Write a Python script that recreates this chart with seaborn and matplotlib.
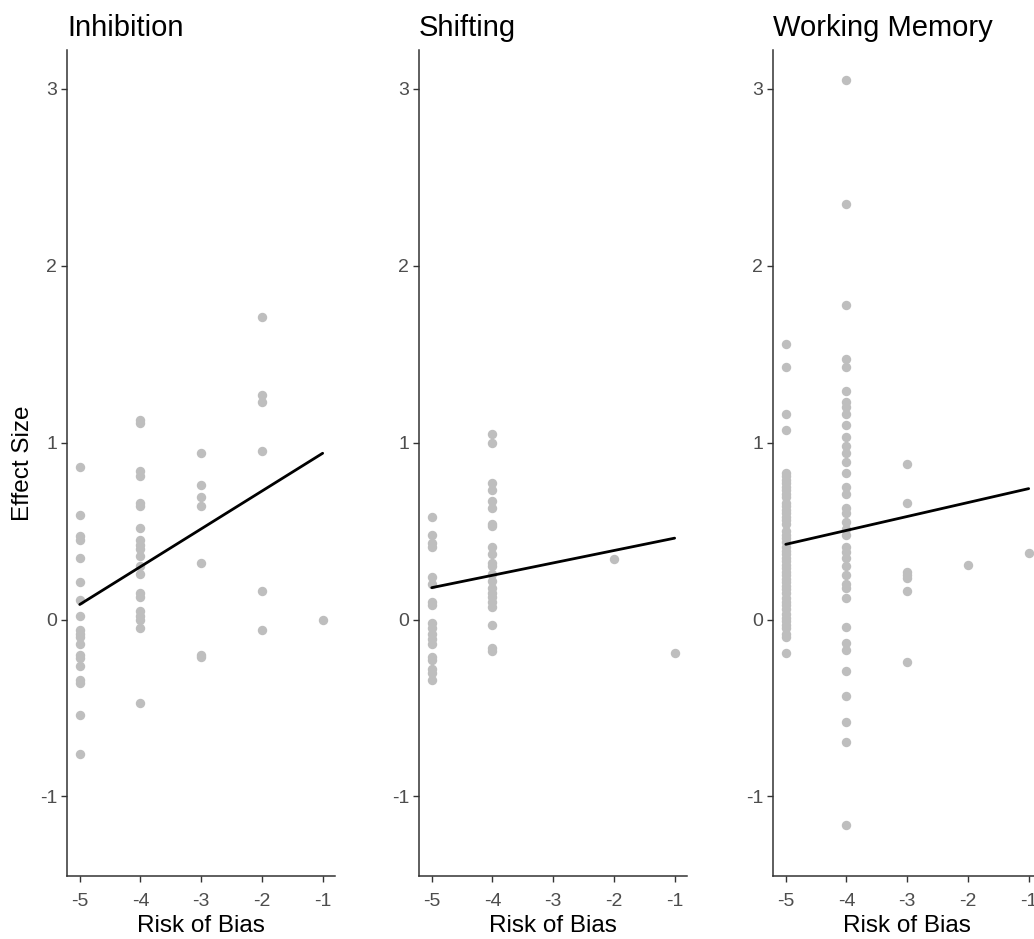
import numpy as np
import pandas as pd
import matplotlib
matplotlib.use("Agg")
import matplotlib.pyplot as plt
import seaborn as sns

# ---- effect sizes by risk-of-bias score, per executive-function domain ----
inhibition_rob = [-5] * 19 + [-4] * 20 + [-3] * 7 + [-2] * 6 + [-1]
inhibition_es = [
    0.86, 0.59, 0.47, 0.45, 0.35, 0.21, 0.11, 0.02, -0.06, -0.08,
    -0.10, -0.14, -0.20, -0.22, -0.26, -0.34, -0.36, -0.54, -0.76,
    1.13, 1.11, 0.84, 0.81, 0.66, 0.64, 0.52, 0.45, 0.42, 0.40,
    0.36, 0.30, 0.26, 0.15, 0.13, 0.05, 0.02, 0.00, -0.05, -0.47,
    0.94, 0.76, 0.69, 0.64, 0.32, -0.20, -0.21,
    1.71, 1.27, 1.23, 0.95, 0.16, -0.06,
    0.00,
]

shifting_rob = [-5] * 18 + [-4] * 22 + [-2] + [-1]
shifting_es = [
    0.58, 0.48, 0.43, 0.41, 0.24, 0.20, 0.10, 0.08, -0.02, -0.05,
    -0.08, -0.11, -0.14, -0.21, -0.23, -0.28, -0.30, -0.34,
    1.05, 1.00, 0.77, 0.73, 0.67, 0.63, 0.54, 0.53, 0.41, 0.37,
    0.32, 0.30, 0.26, 0.22, 0.18, 0.15, 0.13, 0.10, 0.07, -0.03,
    -0.16, -0.18,
    0.34,
    -0.19,
]

wm_rob = [-5] * 49 + [-4] * 38 + [-3] * 7 + [-2] + [-1]
wm_es = [
    1.56, 1.43, 1.16, 1.07, 0.83, 0.81, 0.79, 0.77, 0.75, 0.73,
    0.71, 0.69, 0.66, 0.64, 0.62, 0.60, 0.58, 0.56, 0.54, 0.50,
    0.48, 0.46, 0.44, 0.41, 0.39, 0.37, 0.35, 0.33, 0.31, 0.29,
    0.27, 0.25, 0.23, 0.21, 0.19, 0.17, 0.15, 0.12, 0.10, 0.08,
    0.06, 0.03, 0.01, -0.01, -0.03, -0.05, -0.08, -0.10, -0.19,
    3.05, 2.35, 1.78, 1.47, 1.43, 1.29, 1.23, 1.20, 1.16, 1.10,
    1.03, 0.98, 0.94, 0.89, 0.83, 0.75, 0.71, 0.63, 0.60, 0.55,
    0.51, 0.48, 0.41, 0.38, 0.35, 0.30, 0.25, 0.20, 0.18, 0.12,
    -0.04, -0.13, -0.17, -0.29, -0.43, -0.58, -0.69, -1.16,
    0.88, 0.66, 0.27, 0.25, 0.235, 0.16, -0.24,
    0.31,
    0.375,
]

domains = ["Inhibition", "Shifting", "Working Memory"]

# meta-regression fitted effect at the lowest and highest risk-of-bias score
fit_rob = [-5, -1]
fit_low = [0.085, 0.18, 0.425]
fit_high = [0.94, 0.46, 0.74]

x_ticks = [-5, -4, -3, -2, -1]
y_ticks = [-1, 0, 1, 2, 3]

points = pd.concat([
    pd.DataFrame({"domain": "Inhibition", "rob": inhibition_rob, "es": inhibition_es}),
    pd.DataFrame({"domain": "Shifting", "rob": shifting_rob, "es": shifting_es}),
    pd.DataFrame({"domain": "Working Memory", "rob": wm_rob, "es": wm_es}),
], ignore_index=True)

sns.set_theme(style="ticks")
plt.rcParams["font.family"] = ["Liberation Sans", "DejaVu Sans"]
plt.rcParams["axes.unicode_minus"] = False

fig = plt.figure(figsize=(10.34, 9.39), dpi=100)
bottom, height = 0.0671, 0.8797
width = 0.259
lefts = [0.0648, 0.4052, 0.7476]

for i, dom in enumerate(domains):
    ax = fig.add_axes([lefts[i], bottom, width, height])
    sub = points[points["domain"] == dom]
    sns.scatterplot(data=sub, x="rob", y="es", ax=ax, color="#bebebe",
                    s=46, linewidth=0, alpha=1.0, zorder=2)
    line = pd.DataFrame({"rob": fit_rob, "es": [fit_low[i], fit_high[i]]})
    sns.lineplot(data=line, x="rob", y="es", ax=ax, color="black",
                 linewidth=2.0, zorder=3)
    ax.set_xlim(-5.21, -0.8)
    ax.set_ylim(-1.45, 3.22)
    ax.set_xticks(x_ticks)
    ax.set_xticklabels([str(v) for v in x_ticks])
    ax.set_yticks(y_ticks)
    ax.set_yticklabels([str(v) for v in y_ticks])
    for side in ["top", "right"]:
        ax.spines[side].set_visible(False)
    for side in ["left", "bottom"]:
        ax.spines[side].set_color("#333333")
        ax.spines[side].set_linewidth(1.1)
    ax.tick_params(axis="both", colors="#333333", labelcolor="#4d4d4d",
                   labelsize=14, length=4, width=1.0)
    ax.tick_params(axis="x", pad=8)
    ax.tick_params(axis="y", pad=3)
    ax.set_xlabel("Risk of Bias", fontsize=17.5, color="black", labelpad=4)
    if i == 0:
        ax.set_ylabel("Effect Size", fontsize=17.5, color="black", labelpad=4)
    else:
        ax.set_ylabel("")
    ax.set_title(dom, loc="left", fontsize=21, color="black", pad=10)
    ax.grid(False)

fig.savefig("out.png", dpi=100, facecolor="white")
